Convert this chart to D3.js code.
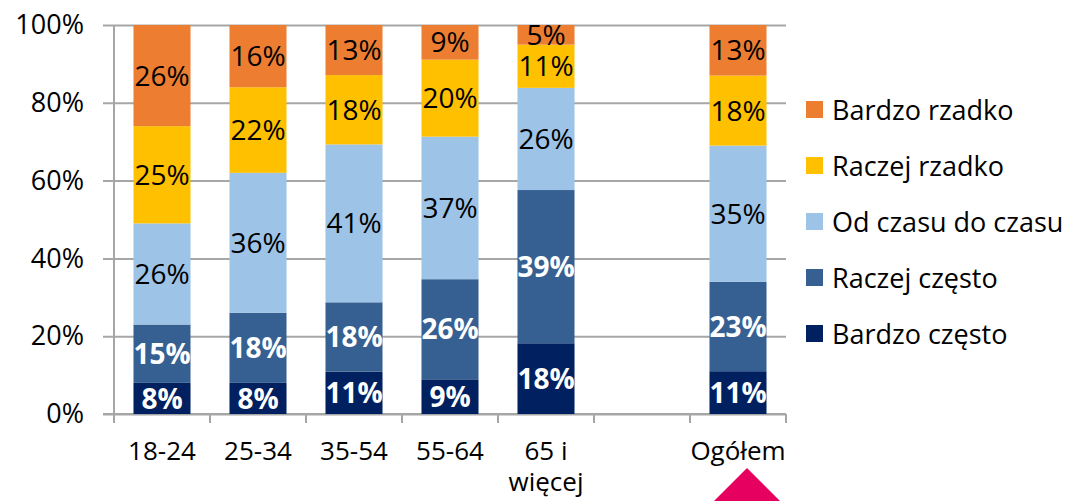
<!DOCTYPE html>
<html>
<head>
<meta charset="utf-8">
<script src="https://cdn.jsdelivr.net/npm/d3@7"></script>
<style>
  html, body { margin: 0; padding: 0; background: #fff; }
  svg { display: block; font-family: "Open Sans", "DejaVu Sans", sans-serif; }
</style>
</head>
<body>
<svg id="chart" width="1068" height="501"></svg>
<script>
// Age groups (the empty slot leaves a gap before the total column)
const categories = ["18-24", "25-34", "35-54", "55-64", "65 i więcej", "", "Ogółem"];

// Share of answers per age group, in percent (null = no bar)
const bardzoCzesto   = [8, 8, 11, 9, 18, null, 11];
const raczejCzesto   = [15, 18, 18, 26, 39, null, 23];
const odCzasuDoCzasu = [26, 36, 41, 37, 26, null, 35];
const raczejRzadko   = [25, 22, 18, 20, 11, null, 18];
const bardzoRzadko   = [26, 16, 13, 9, 5, null, 13];

const seriesNames  = ["Bardzo często", "Raczej często", "Od czasu do czasu", "Raczej rzadko", "Bardzo rzadko"];
const seriesValues = [bardzoCzesto, raczejCzesto, odCzasuDoCzasu, raczejRzadko, bardzoRzadko];
const seriesColors = ["#002060", "#376092", "#9DC3E6", "#FFC000", "#ED7D31"];
const labelColors  = ["#ffffff", "#ffffff", "#000000", "#000000", "#000000"];
const labelWeights = ["bold", "bold", "normal", "normal", "normal"];

const yTicks = [0, 0.2, 0.4, 0.6, 0.8, 1];

const svg = d3.select("#chart");
const plot = { left: 114, right: 786, top: 25, bottom: 414 };

const x = d3.scaleBand()
  .domain(categories)
  .range([plot.left, plot.right])
  .paddingInner(0.406)
  .paddingOuter(0.203);

const y = d3.scaleLinear().domain([0, 1]).range([plot.bottom, plot.top]);

// Rows for the stack layout, one per category that has data
const rows = categories.map((c, i) => {
  const r = { cat: c };
  seriesNames.forEach((s, k) => { r[s] = seriesValues[k][i]; });
  return r;
}).filter(r => r[seriesNames[0]] != null);

const stacked = d3.stack()
  .keys(seriesNames)
  .offset(d3.stackOffsetExpand)(rows);

// Horizontal gridlines with left-hand tick marks and percent labels
const gridW = plot.right - plot.left + 11;
const yAxis = svg.append("g")
  .attr("transform", `translate(${plot.right},0)`)
  .call(d3.axisLeft(y).tickValues(yTicks).tickSize(gridW).tickPadding(19)
    .tickFormat(d3.format(".0%")));
yAxis.select(".domain").remove();
yAxis.selectAll(".tick line").attr("stroke", "#a6a6a6").attr("stroke-width", 2);
yAxis.selectAll(".tick text")
  .attr("font-size", 27)
  .attr("fill", "#000")
  .attr("font-family", "Open Sans, sans-serif");

// Vertical value axis line
svg.append("line")
  .attr("x1", plot.left).attr("x2", plot.left)
  .attr("y1", plot.top).attr("y2", plot.bottom + 9)
  .attr("stroke", "#a6a6a6").attr("stroke-width", 2);

// Category tick marks between bands
const gap = x.step() * x.paddingInner() / 2;
const boundaries = categories.map(c => x(c) - gap).concat([x(categories[categories.length - 1]) + x.bandwidth() + gap]);
svg.append("g").selectAll("line")
  .data(boundaries)
  .join("line")
  .attr("x1", d => d).attr("x2", d => d)
  .attr("y1", plot.bottom).attr("y2", plot.bottom + 9)
  .attr("stroke", "#a6a6a6").attr("stroke-width", 2);

// Category labels (long ones wrap onto a second line)
const xAxis = svg.append("g")
  .attr("transform", `translate(0,${plot.bottom})`)
  .call(d3.axisBottom(x).tickSize(0).tickPadding(28));
xAxis.select(".domain").remove();
xAxis.selectAll(".tick text")
  .attr("font-size", 26)
  .attr("fill", "#000")
  .attr("font-family", "Open Sans, sans-serif")
  .each(function (d) {
    const t = d3.select(this);
    const words = d.split(" ");
    if (words.length < 3) return;
    const first = words.slice(0, words.length - 1).join(" ");
    const last = words[words.length - 1];
    const dy = t.attr("dy");
    t.text(null);
    t.append("tspan").attr("x", 0).attr("dy", dy).text(first);
    t.append("tspan").attr("x", 0).attr("dy", "1.18em").text(last);
  });

// Horizontal axis line
svg.append("line")
  .attr("x1", plot.left - 11).attr("x2", plot.right)
  .attr("y1", plot.bottom).attr("y2", plot.bottom)
  .attr("stroke", "#a6a6a6").attr("stroke-width", 2);

// Stacked bars
const layers = svg.append("g").selectAll("g")
  .data(stacked)
  .join("g")
  .attr("fill", (d, i) => seriesColors[i]);

layers.selectAll("rect")
  .data(d => d)
  .join("rect")
  .attr("x", d => x(d.data.cat))
  .attr("width", x.bandwidth())
  .attr("y", d => y(d[1]))
  .attr("height", d => y(d[0]) - y(d[1]));

// Value labels centred in each segment
const labels = svg.append("g").selectAll("g")
  .data(stacked)
  .join("g")
  .attr("fill", (d, i) => labelColors[i])
  .attr("font-weight", (d, i) => labelWeights[i]);

labels.selectAll("text")
  .data(d => d.map(p => ({ p, key: d.key })))
  .join("text")
  .attr("x", d => x(d.p.data.cat) + x.bandwidth() / 2)
  .attr("y", d => (y(d.p[0]) + y(d.p[1])) / 2)
  .attr("dy", "0.36em")
  .attr("text-anchor", "middle")
  .attr("font-size", 28)
  .text(d => d.p.data[d.key] + "%");

// Legend, top entry is the top segment
const legendOrder = seriesNames.map((s, i) => i).reverse();
const legend = svg.append("g").selectAll("g")
  .data(legendOrder)
  .join("g")
  .attr("transform", (d, j) => `translate(806,${110 + j * 56})`);

legend.append("rect")
  .attr("x", 0).attr("y", -9)
  .attr("width", 17).attr("height", 17)
  .attr("fill", d => seriesColors[d]);

legend.append("text")
  .attr("x", 26).attr("y", 0)
  .attr("dy", "0.36em")
  .attr("font-size", 27)
  .attr("fill", "#000")
  .text(d => seriesNames[d]);

// Marker under the total column
const mx = x("Ogółem") + x.bandwidth() / 2 + 9;
svg.append("path")
  .attr("d", `M${mx},468 L${mx + 40},508 L${mx - 40},508 Z`)
  .attr("fill", "#E6005F");
</script>
</body>
</html>
